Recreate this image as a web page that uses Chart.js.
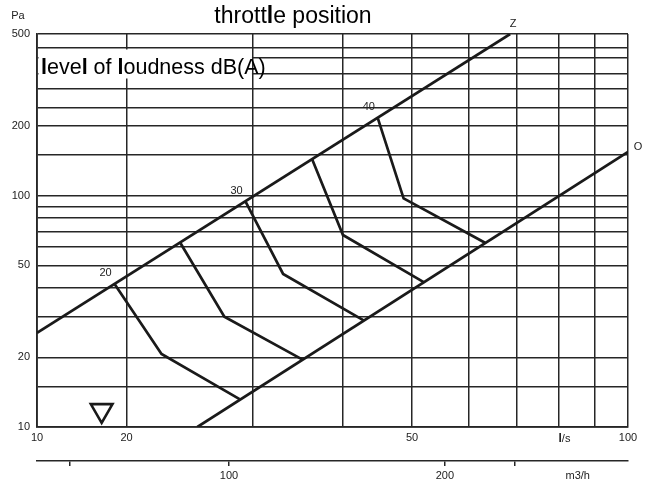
<!DOCTYPE html>
<html>
<head>
<meta charset="utf-8">
<script src="https://cdn.jsdelivr.net/npm/chart.js@4.4.1/dist/chart.umd.min.js"></script>
<style>
  body { margin:0; background:#fff; }
  #wrap { width:648px; height:482px; }
</style>
</head>
<body>
<div id="wrap"><canvas id="chart" width="648" height="482"></canvas></div>
<script>
// grid + tick values (l/s, Pa, m3/h)
const xGrid = [15, 20, 30, 40, 50, 60, 70, 80, 90, 100];
const xTickValues = [15, 20, 50, 100];
const xTickText = ['10', '20', '50', '100'];
const yGrid = [10, 15, 20, 30, 40, 50, 60, 70, 80, 90, 100, 150, 200, 240, 290, 335, 395, 435, 500];
const yTickValues = [10, 20, 50, 100, 200, 500];
const m3hTicks = [60, 100, 200, 250];
const m3hLabels = [100, 200];

// throttle position lines
const zFlow = [15, 68.5];
const zPress = [25.5, 500];
const oFlow = [25.1, 100];
const oPress = [10, 154.5];

// loudness curves dB(A), from Z line down to O line
const dbFlow = [
  [19.24, 22.37, 28.74],
  [23.78, 27.37, 35.13],
  [29.3, 33.05, 42.8],
  [36.28, 40.05, 51.9],
  [44.8, 48.66, 63.2]
];
const dbPress = [
  [41.5, 20.7, 13.2],
  [62.3, 30.0, 19.6],
  [94.2, 45.9, 28.9],
  [143.7, 67.6, 42.3],
  [216, 97.4, 62.6]
];
const dbLabels = ['20', '', '30', '', '40'];

// marker symbol
const markFlow = [18.46];
const markPress = [11.8];

const INK = '#1a1a1a';
const GRID = '#262626';
const NARROW = "'Liberation Sans Narrow', 'Liberation Sans', Arial, sans-serif";
const SANS = "'Liberation Sans', Arial, sans-serif";

function pts(xs, ys){ return xs.map((x, i) => ({x: x, y: ys[i]})); }

function lineSet(data){
  return { type:'line', data:data, borderColor:INK, borderWidth:2.7, pointRadius:0, fill:false, tension:0 };
}

const datasets = [lineSet(pts(zFlow, zPress)), lineSet(pts(oFlow, oPress))];
dbFlow.forEach((f, i) => datasets.push(lineSet(pts(f, dbPress[i]))));
datasets.push({
  type:'scatter', data:pts(markFlow, markPress), pointStyle:'triangle', rotation:180,
  pointRadius:12.5, pointBorderWidth:2.6, borderColor:INK, backgroundColor:'rgba(0,0,0,0)'
});

// text with the heavy "l" of the original drawing
function drawText(ctx, str, x, y, size, align){
  const reg = size + 'px ' + SANS, bold = 'bold ' + reg;
  const parts = str.split(/(l)/).filter(p => p);
  let w = 0;
  parts.forEach(p => { ctx.font = p === 'l' ? bold : reg; w += ctx.measureText(p).width; });
  let cx = align === 'center' ? x - w/2 : x;
  ctx.textAlign = 'left';
  parts.forEach(p => { ctx.font = p === 'l' ? bold : reg; ctx.fillText(p, cx, y); cx += ctx.measureText(p).width; });
}

const extras = {
  id:'extras',
  beforeDatasetsDraw(chart){
    const ctx = chart.ctx, a = chart.chartArea, sx = chart.scales.x, sy = chart.scales.y;
    ctx.save();
    // white box behind the legend text
    ctx.fillStyle = '#fff';
    const bx0 = a.left + 1.5, bx1 = sx.getPixelForValue(30) - 1;
    const by0 = sy.getPixelForValue(435) + 1.5, by1 = by0 + 29;
    ctx.fillRect(bx0, by0, bx1 - bx0, by1 - by0);
    ctx.fillStyle = '#000';
    ctx.textBaseline = 'alphabetic';
    drawText(ctx, 'level of loudness dB(A)', a.left + 4, by0 + 25, 21.5, 'left');
    ctx.restore();
  },
  afterDatasetsDraw(chart){
    const ctx = chart.ctx, a = chart.chartArea, sx = chart.scales.x, sy = chart.scales.y;
    ctx.save();
    ctx.fillStyle = '#000';
    ctx.textBaseline = 'middle';
    drawText(ctx, 'throttle position', a.left + 256, 17, 23, 'center');
    ctx.font = '11px ' + NARROW;
    ctx.fillStyle = '#222';
    ctx.textAlign = 'center';
    ctx.fillText('Pa', 18, 16);
    // throttle line names
    ctx.fillText('Z', sx.getPixelForValue(zFlow[1]) + 3, sy.getPixelForValue(zPress[1]) - 10);
    ctx.fillText('O', sx.getPixelForValue(oFlow[1]) + 10, sy.getPixelForValue(oPress[1]) - 5);
    // loudness values at top of each curve
    dbFlow.forEach((f, i) => {
      if (!dbLabels[i]) return;
      ctx.fillText(dbLabels[i], sx.getPixelForValue(f[0]) - 9, sy.getPixelForValue(dbPress[i][0]) - 11);
    });
    // unit labels
    ctx.textAlign = 'left';
    ctx.font = '11px ' + NARROW;
    ctx.fillText('m3/h', sx.getPixelForValue(80) + 7, 476);
    ctx.fillStyle = '#222';
    ctx.font = 'bold 12px ' + SANS;
    ctx.fillText('l', sx.getPixelForValue(80), 439);
    const lw = ctx.measureText('l').width;
    ctx.font = '11px ' + NARROW;
    ctx.fillText('/s', sx.getPixelForValue(80) + lw, 439);
    ctx.restore();
  }
};

new Chart(document.getElementById('chart').getContext('2d'), {
  data:{ datasets:datasets },
  options:{
    responsive:false,
    animation:false,
    layout:{ padding:{ top:34, right:20, left:0, bottom:0 } },
    plugins:{ legend:{display:false}, tooltip:{enabled:false}, title:{display:false} },
    scales:{
      x:{
        type:'logarithmic', position:'bottom', min:15, max:100,
        afterBuildTicks:s => { s.ticks = xGrid.map(v => ({value:v})); },
        afterFit:s => { s.height = 34; },
        grid:{ color:GRID, lineWidth:1.5, drawTicks:false },
        border:{ color:GRID, width:1.8 },
        ticks:{
          autoSkip:false, maxRotation:0, padding:4, color:'#222',
          font:{ family:NARROW, size:11 },
          callback:v => { const i = xTickValues.indexOf(v); return i < 0 ? '' : xTickText[i]; }
        }
      },
      x2:{
        type:'logarithmic', position:'bottom', weight:1, min:15 * 3.6, max:360,
        afterBuildTicks:s => { s.ticks = m3hTicks.map(v => ({value:v})); },
        afterFit:s => { s.height = 21; },
        grid:{ drawOnChartArea:false, color:GRID, lineWidth:1.5, tickLength:5 },
        border:{ color:GRID, width:1.5 },
        ticks:{
          autoSkip:false, maxRotation:0, padding:3, color:'#222',
          font:{ family:NARROW, size:11 },
          callback:v => m3hLabels.includes(v) ? String(v) : ''
        }
      },
      y:{
        type:'logarithmic', position:'left', min:10, max:500,
        afterBuildTicks:s => { s.ticks = yGrid.map(v => ({value:v})); },
        afterFit:s => { s.width = 37; },
        grid:{ color:GRID, lineWidth:1.5, drawTicks:false },
        border:{ color:GRID, width:1.8 },
        ticks:{
          autoSkip:false, padding:7, color:'#222',
          font:{ family:NARROW, size:11 },
          callback:v => yTickValues.includes(v) ? String(v) : ''
        }
      }
    }
  },
  plugins:[extras]
});
</script>
</body>
</html>
